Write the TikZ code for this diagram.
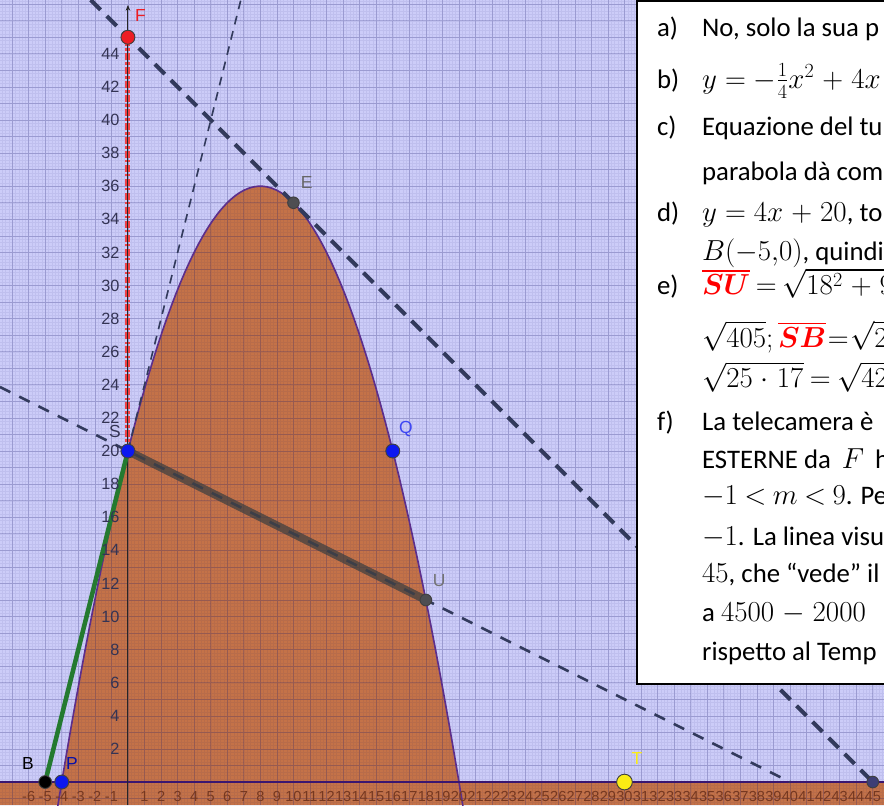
\documentclass[tikz,border=0pt]{standalone}
\usepackage{fontspec}
\usepackage{amsmath}
\setmainfont{Carlito}
\setsansfont{Liberation Sans}
\usetikzlibrary{arrows.meta, positioning}
\DeclareMathSizes{23}{24.5}{17}{13}
\newcommand\wordmath{\thickmuskip=5mu\relax\medmuskip=5mu\relax}
\newcommand\tight{\mkern-1.5mu}
\definecolor{cbg}{RGB}{204,204,248}
\definecolor{cgridl}{RGB}{30,30,110}
\definecolor{cfill}{RGB}{196,114,72}
\definecolor{ccurve}{RGB}{92,46,140}
\definecolor{caxis}{RGB}{58,22,112}
\definecolor{cdash}{RGB}{50,58,92}
\definecolor{cgreen}{RGB}{36,122,48}
\definecolor{cseg}{RGB}{64,64,64}
\definecolor{cblue}{RGB}{12,24,240}
\definecolor{cgrey}{RGB}{78,78,82}
\definecolor{cyellow}{RGB}{250,236,20}
\definecolor{cred}{RGB}{236,30,36}
\definecolor{cnum}{RGB}{52,52,84}
\definecolor{cbrown}{RGB}{118,56,32}
\tikzset{
  gpoint/.style={circle, draw=black!75, line width=0.8pt, fill=#1, inner sep=0pt, minimum size=11pt},
  gpoint/.default=cgrey,
  plabel/.style={font=\sffamily\fontsize{15}{15}\selectfont, text=#1, inner sep=0pt},
  ynum/.style={font=\sffamily\fontsize{14}{14}\selectfont, text=cnum, anchor=east, inner sep=0pt},
  xnum/.style={font=\sffamily\fontsize{12.5}{12.5}\selectfont, text=cbrown, inner sep=0pt},
  tangline/.style={draw=cdash, line width=1.4pt, dash pattern=on 7.5pt off 6pt},
  item/.style={anchor=base west, inner sep=0pt, font=\fontsize{23}{26}\selectfont\wordmath},
}
\begin{document}
\begin{tikzpicture}[x=0.5cm, y=0.5cm]
  \useasboundingbox (-7.73,-1.39) rectangle (45.68,47.25);
  \clip (-7.73,-1.39) rectangle (45.68,47.25);
  \fill[cbg] (-7.73,-1.39) rectangle (45.68,47.25);
  \fill[cfill] (-7.73,-1.39) rectangle (45.68,0);
  \fill[cfill] plot[domain=-4:20, samples=90] (\x,{-0.25*\x*\x+4*\x+20}) -- cycle;
  \draw[cgridl, opacity=0.07, line width=0.3pt, step=0.2] (-7.8,-1.4) grid (45.8,47.4);
  \draw[cgridl, opacity=0.22, line width=0.55pt, step=1] (-7.8,-1.4) grid (45.8,47.4);
  \draw[ccurve, line width=1.4pt] plot[domain=-4.25:20.25, samples=90] (\x,{-0.25*\x*\x+4*\x+20});
  \draw[caxis, line width=1.8pt] (-7.8,0) -- (45.8,0);
  \coordinate (S) at (0,20);
  \coordinate (Q) at (16,20);
  \coordinate (P) at (-4,0);
  \coordinate (B) at (-5,0);
  \coordinate (E) at (10,35);
  \coordinate (U) at (18,11);
  \coordinate (F) at (0,45);
  \coordinate (T) at (30,0);
  \coordinate (K) at (45,0);
  \coordinate (L) at (40,0);
  \coordinate (topF) at (-2.25,47.25);
  \coordinate (topS) at (6.82,47.25);
  \coordinate (leftS) at (-7.73,23.87);
  \coordinate (axbot) at (0,-1.39);
  \coordinate (axtop) at (0,46.95);
  \draw[tangline, line width=2.2pt, dash pattern=on 10pt off 8.5pt] (leftS) -- (L);
  \draw[tangline] (S) -- (topS);
  \draw[tangline, line width=3.4pt, dash pattern=on 12pt off 7.5pt] (topF) -- (K);
  \draw[cred!85, line width=4.3pt, dash pattern=on 6pt off 2pt on 2pt off 2pt] (S) -- (F);
  \draw[black!85, line width=0.8pt, -{Stealth[length=5pt, width=4pt]}] (axbot) -- (axtop);
  \draw[cgreen, line width=3.9pt] (B) -- (S);
  \draw[cseg, opacity=0.75, line width=6.9pt] (S) -- (U);
  \foreach \k in {2,4,...,44} \node[ynum] (y\k) at (-0.5,\k) {\k};
  \foreach \k [count=\i] in {-6,-5,...,-1,1,2,...,45} \node[xnum] (xn\i) at (\k,-0.85) {\k};
  \node[gpoint=cblue, minimum size=12pt] (dS) at (S) {};
  \node[gpoint=cblue, minimum size=12pt] (dQ) at (Q) {};
  \node[gpoint=cblue, minimum size=12pt] (dP) at (P) {};
  \node[gpoint=black] (dB) at (B) {};
  \node[gpoint, minimum size=10pt] (dE) at (E) {};
  \node[gpoint, minimum size=10pt] (dU) at (U) {};
  \node[gpoint=cred, minimum size=12pt] (dF) at (F) {};
  \node[gpoint=cyellow, minimum size=13.5pt] (dT) at (T) {};
  \node[gpoint=cgrey!80!blue, minimum size=10pt] (dK) at (K) {};
  \node[plabel=cred] (lF) at (0.75,46.3) {F};
  \node[plabel=black!60] (lE) at (10.8,36.2) {E};
  \node[plabel=cnum] (lS) at (-0.79,21.17) {S};
  \node[plabel=cblue!80] (lQ) at (16.8,21.3) {Q};
  \node[plabel=black!55] (lU) at (18.81,12.2) {U};
  \node[plabel=black] (lB) at (-6.04,1.15) {B};
  \node[plabel=cblue!70!black] (lP) at (-3.38,1.15) {P};
  \node[plabel=cyellow] (lT) at (30.75,1.45) {T};
  \draw[fill=white, line width=1.5pt] (30.76,47.19) rectangle (47,5.92);
  \node[item] (ia) at (31.96,45.02) {a)};
  \node[item] (ta) at (34.68,45.02) {No, solo la sua p};
  \node[item] (ib) at (31.96,41.93) {b)};
  \node[item] (tb) at (34.68,41.93) {$y=-\frac{1}{4}x^2+4x$};
  \node[item] (ic) at (31.96,39.09) {c)};
  \node[item] (tc) at (34.68,39.09) {Equazione del tu};
  \node[item] (tc2) at (34.68,36.37) {parabola dà com};
  \node[item] (id) at (31.96,33.84) {d)};
  \node[item] (td) at (34.68,33.84) {$y=4x+20$, to};
  \node[item] (td2) at (34.68,31.54) {$B(-5{,}0)$, quindi};
  \node[item] (ie) at (31.96,29.43) {e)};
  \node[item] (te) at (34.68,29.43) {${\color{red}\overline{\boldsymbol{SU}}}\tight=\tight\sqrt{18^2+9^2}$};
  \node[item] (te2) at (34.68,26.28) {$\sqrt{405};{\color{red}\overline{\boldsymbol{SB}}}\mkern-4mu=\mkern-4mu\sqrt{20^2+5^2}$};
  \node[item] (te3) at (34.68,23.81) {$\sqrt{25\cdot17}\mkern-1mu=\mkern-1mu\sqrt{425}$};
  \node[item] (if) at (31.96,21.27) {f)};
  \node[item] (tf) at (34.68,21.27) {La telecamera è};
  \node[item] (tf2) at (34.68,18.97) {ESTERNE da $\,F\,$ h};
  \node[item] (tf3) at (34.68,16.74) {$-1\mkern-1mu<\mkern-1mu m\mkern-1mu<\mkern-1mu9$. Pe};
  \node[item] (tf4) at (34.68,14.32) {$-1$. La linea visu};
  \node[item] (tf5) at (34.68,12.08) {$45$, che “vede” il};
  \node[item] (tf6) at (34.68,9.67) {a $4500-2000$};
  \node[item] (tf7) at (34.68,7.37) {rispetto al Temp};
\end{tikzpicture}
\end{document}
